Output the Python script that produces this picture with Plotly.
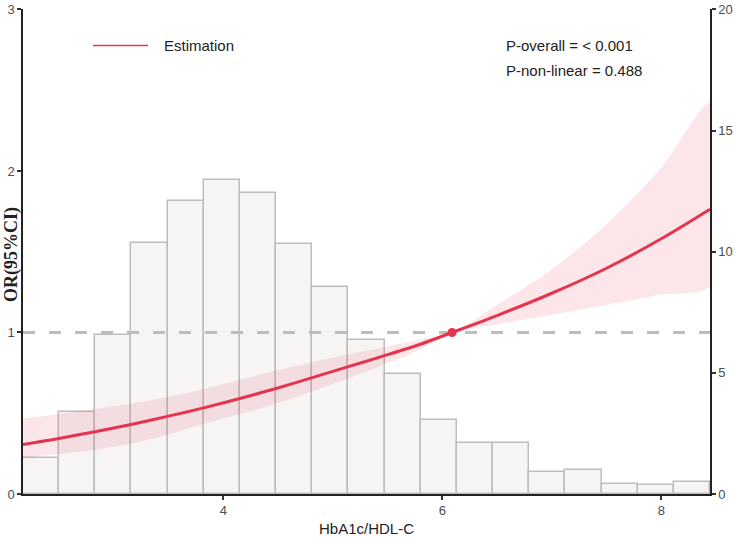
import plotly.graph_objects as go

# ---- data ----
bin_start = 2.171
bin_width = 0.3302
hist_counts = [1.49, 3.38, 6.57, 10.36, 12.08, 12.97, 12.42, 10.32, 8.56, 6.34,
               4.96, 3.07, 2.11, 2.10, 0.91, 1.01, 0.42, 0.36, 0.48]

x_grid = [2.171, 2.50, 2.83, 3.17, 3.50, 3.83, 4.16, 4.49, 4.82, 5.15, 5.48, 5.80,
          6.09, 6.50, 7.00, 7.50, 8.00, 8.445]
or_est = [0.307, 0.344, 0.386, 0.432, 0.482, 0.535, 0.593, 0.655, 0.722, 0.790, 0.858, 0.927,
          1.000, 1.105, 1.243, 1.398, 1.580, 1.763]
or_upper = [0.466, 0.495, 0.526, 0.560, 0.600, 0.652, 0.708, 0.766, 0.818, 0.865, 0.912, 0.957,
            1.000, 1.170, 1.390, 1.670, 2.020, 2.420]
or_lower = [0.224, 0.247, 0.274, 0.315, 0.368, 0.436, 0.497, 0.562, 0.638, 0.718, 0.805, 0.895,
            1.000, 1.050, 1.110, 1.170, 1.235, 1.290]
ref_x = 6.09
ref_or = 1.0

x_range = [2.171, 8.445]
x_ticks = [4, 6, 8]
left_ticks = [0, 1, 2, 3]
right_ticks = [0, 5, 10, 15, 20]

RED = "#e5344f"
BAND = "rgba(230, 60, 90, 0.13)"
SANS = "Liberation Sans, Arial, sans-serif"

centers = [bin_start + bin_width * (i + 0.5) for i in range(len(hist_counts))]

fig = go.Figure()

# histogram on primary y (right side)
fig.add_trace(go.Bar(
    x=centers, y=hist_counts, width=bin_width,
    marker=dict(color="#f6f5f4", line=dict(color="#bdbdbd", width=1.5)),
    yaxis="y", showlegend=False, hoverinfo="skip"))

# CI band on y2 (left side)
fig.add_trace(go.Scatter(
    x=x_grid + x_grid[::-1], y=or_upper + or_lower[::-1],
    fill="toself", fillcolor=BAND, line=dict(width=0, shape="spline", smoothing=0.8),
    yaxis="y2", showlegend=False, hoverinfo="skip"))

# reference dashed line
fig.add_trace(go.Scatter(
    x=x_range, y=[1, 1], mode="lines",
    line=dict(color="#bdbdbd", width=3, dash="12px,14px"),
    yaxis="y2", showlegend=False, hoverinfo="skip"))

# estimate curve
fig.add_trace(go.Scatter(
    x=x_grid, y=or_est, mode="lines",
    line=dict(color=RED, width=3, shape="spline", smoothing=0.8),
    yaxis="y2", showlegend=False))

fig.add_trace(go.Scatter(
    x=[ref_x], y=[ref_or], mode="markers",
    marker=dict(color=RED, size=9),
    yaxis="y2", showlegend=False))

tickfont = dict(family=SANS, size=13, color="#4d4d4d")
axis_common = dict(ticks="outside", ticklen=4, tickcolor="#333333", tickwidth=1.5,
                   showgrid=False, zeroline=False, showline=True, linecolor="#222222",
                   linewidth=1.5, tickfont=tickfont, ticklabeloverflow="allow",
                   automargin=False)

fig.update_layout(
    width=735, height=539,
    margin=dict(l=23, r=25, t=9, b=45),
    paper_bgcolor="white", plot_bgcolor="white",
    bargap=0,
    xaxis=dict(range=x_range, tickvals=x_ticks, **axis_common,
               title=dict(text="HbA1c/HDL-C", standoff=6,
                          font=dict(family=SANS, size=15, color="#222222"))),
    yaxis=dict(range=[0, 20.02], tickvals=right_ticks, side="right", **axis_common),
    yaxis2=dict(range=[0, 3.003], tickvals=left_ticks, side="left", overlaying="y", **axis_common),
    font=dict(family=SANS),
)

# y-axis title (left)
fig.add_annotation(xref="paper", yref="paper", x=0, y=0.493, xshift=-11,
                   xanchor="center", yanchor="middle",
                   text="<b>OR(95%CI)</b>", textangle=-90, showarrow=False,
                   font=dict(family="Liberation Serif, Times New Roman, serif", size=18, color="#222222"))

# legend
fig.add_shape(type="line", xref="paper", yref="paper", x0=0.102, x1=0.182, y0=0.925, y1=0.925,
              line=dict(color=RED, width=1.5))
fig.add_annotation(xref="paper", yref="paper", x=0.202, y=0.925, xanchor="left", yanchor="middle",
                   text="Estimation", showarrow=False,
                   font=dict(family=SANS, size=15, color="#222222"))
fig.add_annotation(xref="paper", yref="paper", x=0.700, y=0.925, xanchor="left", yanchor="middle",
                   text="P-overall = < 0.001", showarrow=False,
                   font=dict(family=SANS, size=15, color="#222222"))
fig.add_annotation(xref="paper", yref="paper", x=0.700, y=0.874, xanchor="left", yanchor="middle",
                   text="P-non-linear = 0.488", showarrow=False,
                   font=dict(family=SANS, size=15, color="#222222"))

fig.write_html("out.html")
